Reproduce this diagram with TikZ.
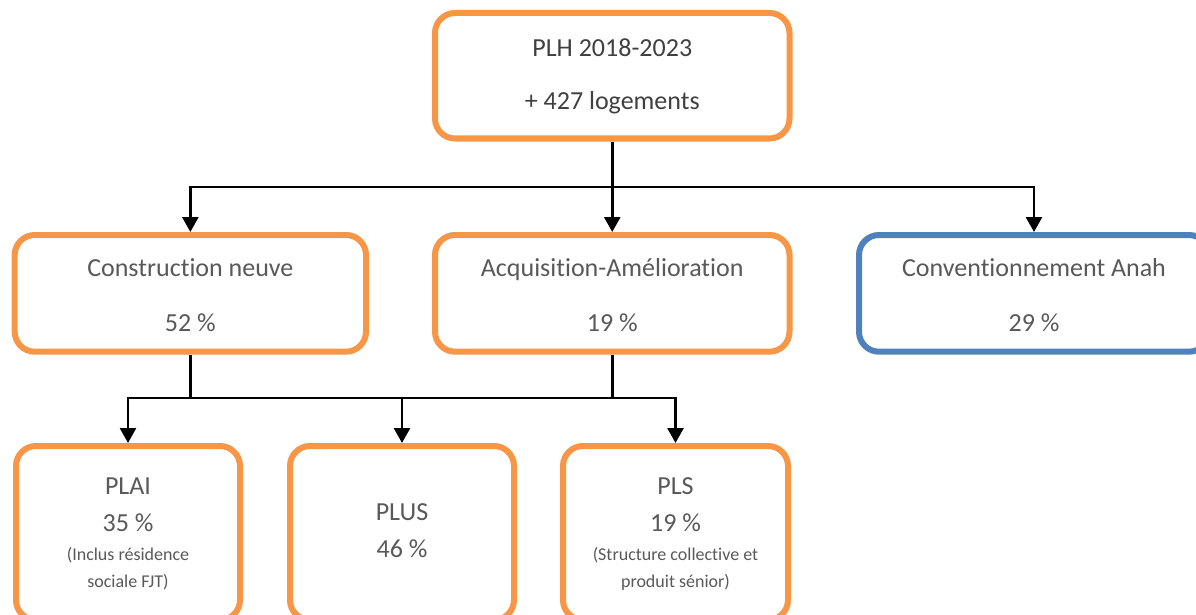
\documentclass[tikz,border=0pt]{standalone}
\usepackage{fontspec}
\setmainfont{Carlito}[Ligatures=CommonOff]
\usetikzlibrary{arrows.meta}
\definecolor{orng}{HTML}{F79646}
\definecolor{blu}{HTML}{4F81BD}
\definecolor{txtd}{HTML}{404040}
\definecolor{txtl}{HTML}{595959}
\begin{document}
\begin{tikzpicture}[x=1pt,y=-1pt,
  box/.style={draw=orng,line width=6pt,rounded corners=20pt,rectangle,inner sep=0pt,fill=white},
  bluebox/.style={box,draw=blu},
  conn/.style={line width=2.7pt,draw=black},
  arr/.style={conn,-{Triangle[width=16pt,length=15pt]}},
  big/.style={font=\fontsize{26}{30}\selectfont,text=txtl,inner sep=0pt,anchor=base},
  small/.style={font=\fontsize{18}{22}\selectfont,text=txtl,inner sep=0pt,anchor=base}]
\useasboundingbox (0,0) rectangle (1196,615);
\clip (0,0) rectangle (1196,615);
\fill[white] (0,0) rectangle (1196,615);

% boxes
\node[box,minimum width=354.5pt,minimum height=125.5pt] (top) at (612.25,75.75) {};
\node[box,minimum width=351.3pt,minimum height=116.7pt] (c1) at (190.35,293.35) {};
\node[box,minimum width=354.5pt,minimum height=116.7pt] (c2) at (612.25,293.35) {};
\node[bluebox,minimum width=350pt,minimum height=116.7pt] (c3) at (1034,293.35) {};
\node[box,minimum width=224pt,minimum height=174pt] (b1) at (128,533) {};
\node[box,minimum width=224pt,minimum height=174pt] (b2) at (402,533) {};
\node[box,minimum width=225pt,minimum height=174pt] (b3) at (675.5,533) {};

% connectors, upper level
\coordinate (h1) at (612.25,187);
\draw[conn] (top.south) -- (h1);
\draw[arr] (h1) -| (c1.north);
\draw[arr] (h1) -- (c2.north);
\draw[arr] (h1) -| (c3.north);

% connectors, lower level
\coordinate (m) at (402,398);
\draw[conn] (c1.south) -- (c1.south |- m);
\draw[conn] (c2.south) -- (c2.south |- m);
\draw[conn] (c1.south |- m) -- (c2.south |- m);
\draw[arr] (c1.south |- m) -| (b1.north);
\draw[arr] (b2.north |- m) -- (b2.north);
\draw[arr] (c2.south |- m) -| (b3.north);

% texts
\node[big,text=txtd] (t1) at (612.25,57) {PLH 2018-2023};
\node[big,text=txtd] (t2) at (612.25,110) {+ 427 logements};

\node[big] (c1a) at (190.35,276) {Construction neuve};
\node[big] (c1b) at (190.35,331) {52 \%};
\node[big] (c2a) at (612.25,276) {Acquisition-Amélioration};
\node[big] (c2b) at (612.25,331) {19 \%};
\node[big] (c3a) at (1034,276) {Conventionnement Anah};
\node[big] (c3b) at (1034,331) {29 \%};

\node[big] (b1a) at (128,494) {PLAI};
\node[big] (b1b) at (128,531) {35 \%};
\node[small] (b1c) at (128,560) {(Inclus résidence};
\node[small] (b1d) at (128,587) {sociale FJT)};

\node[big] (b2a) at (402,520) {PLUS};
\node[big] (b2b) at (402,557) {46 \%};

\node[big] (b3a) at (675.5,494) {PLS};
\node[big] (b3b) at (675.5,531) {19 \%};
\node[small] (b3c) at (675.5,560) {(Structure collective et};
\node[small] (b3d) at (675.5,587) {produit sénior)};
\end{tikzpicture}
\end{document}
